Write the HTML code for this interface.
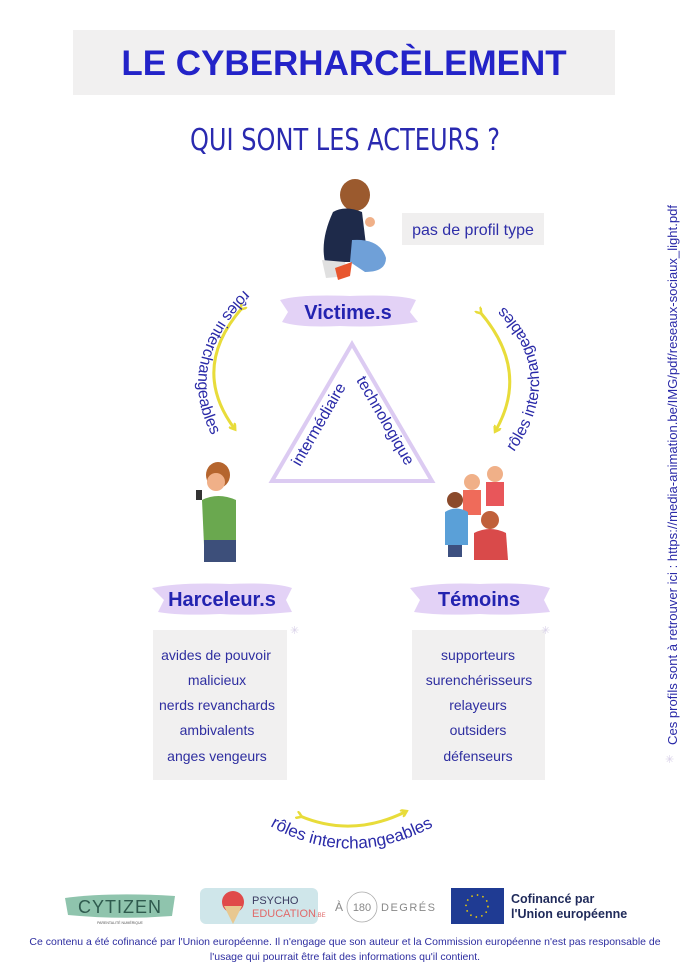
<!DOCTYPE html>
<html><head><meta charset="utf-8"><style>
html,body{margin:0;padding:0;background:#fff;}
svg{display:block;}
</style></head><body>
<svg width="690" height="975" viewBox="0 0 690 975" xmlns="http://www.w3.org/2000/svg" font-family="'Liberation Sans', sans-serif">
<defs>
<marker id="ah" markerWidth="8" markerHeight="8" refX="4" refY="4" orient="auto" markerUnits="userSpaceOnUse">
<path d="M0,0 L6,4 L0,8" fill="none" stroke="#e8dc3a" stroke-width="2.5"/>
</marker>
<path id="pl" d="M 244 290 Q 165 370 222 452"/>
<path id="pr2" d="M 514 452 Q 575 365 488 292"/>
<path id="pb" d="M 270 826 Q 352 872 438 824"/>
</defs>
<rect width="690" height="975" fill="#fff"/>
<rect x="73" y="30" width="542" height="65" fill="#f1f0f0"/>
<text x="344" y="75" text-anchor="middle" font-size="35" font-weight="bold" fill="#2323c8">LE CYBERHARCÈLEMENT</text>
<text x="345" y="150" text-anchor="middle" font-size="30" fill="#2a2ab0" font-family="'DejaVu Sans Condensed','Liberation Sans',sans-serif" textLength="310" lengthAdjust="spacingAndGlyphs">QUI SONT LES ACTEURS ?</text>
<ellipse cx="355" cy="195" rx="15" ry="16" fill="#9b5a2e"/>
<path d="M333 212 Q345 205 362 212 L366 245 L355 262 L325 262 Q320 240 333 212Z" fill="#1e2a4a"/>
<path d="M352 240 Q380 238 386 258 Q386 272 365 272 L350 262Z" fill="#6fa0d8"/>
<path d="M322 260 L345 262 L348 276 L326 278Z" fill="#e0e0e0"/>
<path d="M335 268 L352 262 L350 276 L338 280Z" fill="#e8562e"/>
<circle cx="370" cy="222" r="5" fill="#f0b088"/>
<rect x="402" y="213" width="142" height="32" fill="#f0efef"/>
<text x="473" y="235" text-anchor="middle" font-size="16" fill="#2e2ea8">pas de profil type</text>
<path d="M280 300 Q300 294 350 296 Q400 294 416 300 L410 312 L418 322 Q380 328 340 326 Q300 328 282 322 L288 312Z" fill="#e3d2f6"/>
<text x="348" y="319" text-anchor="middle" font-size="20" font-weight="bold" fill="#2323b0">Victime.s</text>
<path d="M152 588 Q180 582 230 584 Q275 582 292 588 L286 600 L292 612 Q250 616 220 614 Q180 616 158 612 L164 600Z" fill="#e3d2f6"/>
<text x="222" y="606" text-anchor="middle" font-size="20" font-weight="bold" fill="#2323b0">Harceleur.s</text>
<path d="M410 588 Q440 582 480 584 Q530 582 550 588 L544 600 L550 612 Q510 616 480 614 Q440 616 414 612 L420 600Z" fill="#e3d2f6"/>
<text x="479" y="606" text-anchor="middle" font-size="20" font-weight="bold" fill="#2323b0">Témoins</text>
<path d="M352 344 L272 481 L432 481Z" fill="none" stroke="#dccbf2" stroke-width="4"/>
<text transform="translate(300 467) rotate(-60)" font-size="16" fill="#2a2aa8">intermédiaire</text>
<text transform="translate(356 380) rotate(60)" font-size="16" fill="#2a2aa8">technologique</text>
<path d="M242 308 Q190 368 234 428" fill="none" stroke="#e8dc3a" stroke-width="3" marker-start="url(#ah)" marker-end="url(#ah)"/>
<path d="M480 312 Q530 370 496 430" fill="none" stroke="#e8dc3a" stroke-width="3" marker-start="url(#ah)" marker-end="url(#ah)"/>
<path d="M300 816 Q352 838 405 812" fill="none" stroke="#e8dc3a" stroke-width="3" marker-start="url(#ah)" marker-end="url(#ah)"/>
<text font-size="16" fill="#2a2aa8"><textPath href="#pl">rôles interchangeables</textPath></text>
<text font-size="16" fill="#2a2aa8"><textPath href="#pr2">rôles interchangeables</textPath></text>
<text font-size="17" fill="#2a2aa8"><textPath href="#pb">rôles interchangeables</textPath></text>
<ellipse cx="218" cy="475" rx="12" ry="13" fill="#b5652e"/>
<circle cx="216" cy="482" r="9" fill="#f0b088"/>
<path d="M202 500 Q218 492 236 500 L236 545 L204 545Z" fill="#6aa84f"/>
<rect x="204" y="540" width="32" height="22" fill="#3d4f7a"/>
<rect x="196" y="490" width="6" height="10" fill="#333"/>
<circle cx="472" cy="482" r="8" fill="#f0b088"/>
<rect x="463" y="490" width="18" height="25" fill="#ef6b5a"/>
<circle cx="495" cy="474" r="8" fill="#f0b088"/>
<rect x="486" y="482" width="18" height="24" fill="#e8565a"/>
<circle cx="455" cy="500" r="8" fill="#8b4a2b"/>
<path d="M445 512 Q456 505 468 512 L468 545 L445 545Z" fill="#5aa0d8"/>
<circle cx="490" cy="520" r="9" fill="#c0603a"/>
<path d="M474 533 Q490 525 506 533 L508 560 L474 560Z" fill="#d94a4a"/>
<rect x="448" y="545" width="14" height="12" fill="#3d5080"/>
<rect x="153" y="630" width="134" height="150" fill="#f1f0f0"/>
<rect x="412" y="630" width="133" height="150" fill="#f1f0f0"/>
<text x="290" y="634" font-size="11" fill="#d8d0e8">✳</text>
<text x="541" y="634" font-size="11" fill="#d8d0e8">✳</text>
<g font-size="14" fill="#2e2ea0" text-anchor="middle">
<text x="216" y="660">avides de pouvoir</text>
<text x="217" y="685">malicieux</text>
<text x="217" y="710">nerds revanchards</text>
<text x="217" y="735">ambivalents</text>
<text x="217" y="761">anges vengeurs</text>
<text x="478" y="660">supporteurs</text>
<text x="479" y="685">surenchérisseurs</text>
<text x="478" y="710">relayeurs</text>
<text x="478" y="735">outsiders</text>
<text x="478" y="761">défenseurs</text>
</g>
<text transform="translate(677 745) rotate(-90)" font-size="13" fill="#2a2aa8" textLength="540" lengthAdjust="spacingAndGlyphs">Ces profils sont à retrouver ici : https://media-animation.be/IMG/pdf/reseaux-sociaux_light.pdf</text>
<text x="665" y="763" font-size="11" fill="#d8d0e8">✳</text>
<path d="M65 898 Q110 892 175 896 L172 916 Q120 920 68 915Z" fill="#8fc4ad"/>
<text x="120" y="913" text-anchor="middle" font-size="18" fill="#2f5a4e" letter-spacing="1">CYTIZEN</text>
<text x="120" y="924" text-anchor="middle" font-size="3.5" fill="#555">PARENTALITÉ NUMÉRIQUE</text>
<rect x="200" y="888" width="118" height="36" rx="6" fill="#cfe6ea"/>
<circle cx="233" cy="902" r="11" fill="#e04a4a"/>
<path d="M224 906 L242 906 L233 924Z" fill="#e8c890"/>
<text x="252" y="904" font-size="11" fill="#3a3a60">PSYCHO</text>
<text x="252" y="917" font-size="11" fill="#e06a6a">EDUCATION<tspan font-size="6">.BE</tspan></text>
<text x="335" y="911" font-size="12" fill="#888" letter-spacing="1">À</text>
<circle cx="362" cy="907" r="15" fill="none" stroke="#aaa" stroke-width="0.8"/>
<text x="362" y="911" text-anchor="middle" font-size="11" fill="#888">180</text>
<text x="381" y="911" font-size="11" fill="#888" letter-spacing="1.5">DEGRÉS</text>
<rect x="451" y="888" width="53" height="36" fill="#1f3b93"/>
<circle cx="477" cy="906" r="11" fill="none" stroke="#f5d300" stroke-width="1.5" stroke-dasharray="1.5 4.2"/>
<text x="511" y="903" font-size="12.5" font-weight="bold" fill="#1f2a5a">Cofinancé par</text>
<text x="511" y="918" font-size="12.5" font-weight="bold" fill="#1f2a5a">l'Union européenne</text>
<g font-size="10.5" fill="#2e2ea0" text-anchor="middle">
<text x="345" y="945">Ce contenu a été cofinancé par l'Union européenne. Il n'engage que son auteur et la Commission européenne n'est pas responsable de</text>
<text x="345" y="960">l'usage qui pourrait être fait des informations qu'il contient.</text>
</g>
</svg>
</body></html>
